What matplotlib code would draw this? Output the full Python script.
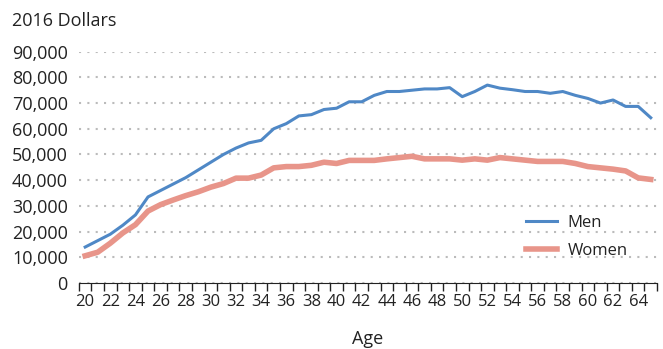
import numpy as np
import matplotlib.pyplot as plt
from matplotlib.ticker import FuncFormatter, MultipleLocator

plt.rcParams['font.family'] = ['Open Sans', 'DejaVu Sans']

ages = list(range(20, 66))
men = [14000, 16500, 19000, 22500, 26500, 33500, 36000, 38500, 41000, 44000,
       47000, 50000, 52500, 54500, 55500, 60000, 62000, 65000, 65500, 67500,
       68000, 70500, 70500, 73000, 74500, 74500, 75000, 75500, 75500, 76000,
       72500, 74500, 77000, 75800, 75200, 74500, 74500, 73800, 74500, 73000,
       71800, 70000, 71200, 68700, 68700, 64300]
women = [10600, 12000, 15500, 19500, 22700, 28000, 30500, 32300, 34000, 35500,
         37300, 38700, 40800, 40800, 42000, 44800, 45300, 45300, 45800, 47000,
         46500, 47700, 47700, 47700, 48300, 48800, 49300, 48300, 48300, 48300,
         47800, 48300, 47800, 48800, 48300, 47800, 47300, 47300, 47300, 46500,
         45300, 44800, 44300, 43600, 40900, 40300]

fig = plt.figure(figsize=(6.63, 3.49), dpi=100)
ax = fig.add_axes([0.119, 0.189, 0.872, 0.663])

ax.plot(ages, men, color='#4f88c6', lw=2.2, label='Men')
ax.plot(ages, women, color='#e8958a', lw=4, label='Women')

ax.set_xlim(19.5, 65.5)
ax.set_ylim(0, 90000)

# category-style axis: tick marks between ages, labels on even ages
ax.set_xticks(np.arange(19.5, 66, 1))
ax.set_xticklabels([])
ax.set_xticks(range(20, 65, 2), minor=True)
ax.set_xticklabels([str(a) for a in range(20, 65, 2)], minor=True)
ax.tick_params(axis='x', which='major', direction='out', length=6, width=1, color='#222222')
ax.tick_params(axis='x', which='minor', length=0, pad=8, labelsize=12, labelcolor='#222222')

ax.yaxis.set_major_locator(MultipleLocator(10000))
ax.yaxis.set_major_formatter(FuncFormatter(lambda v, p: f'{int(v):,}'))
ax.tick_params(axis='y', length=0, pad=8, labelsize=13, labelcolor='#222222')

ax.grid(axis='y', color='#bbbbbb', linestyle=(0, (1, 3)), lw=1.5)
ax.set_axisbelow(True)
for s in ['top', 'right', 'left']:
    ax.spines[s].set_visible(False)
ax.spines['bottom'].set_color('#222222')

ax.set_xlabel('Age', fontsize=13, color='#222222', labelpad=14)
fig.text(0.018, 0.94, '2016 Dollars', fontsize=13, color='#222222', va='center')

leg = ax.legend(loc='lower right', bbox_to_anchor=(0.975, 0.04), frameon=False,
                fontsize=12, handlelength=1.9, handletextpad=0.6, labelspacing=0.7)
for t in leg.get_texts():
    t.set_color('#222222')

fig.savefig('out.png', dpi=100)
